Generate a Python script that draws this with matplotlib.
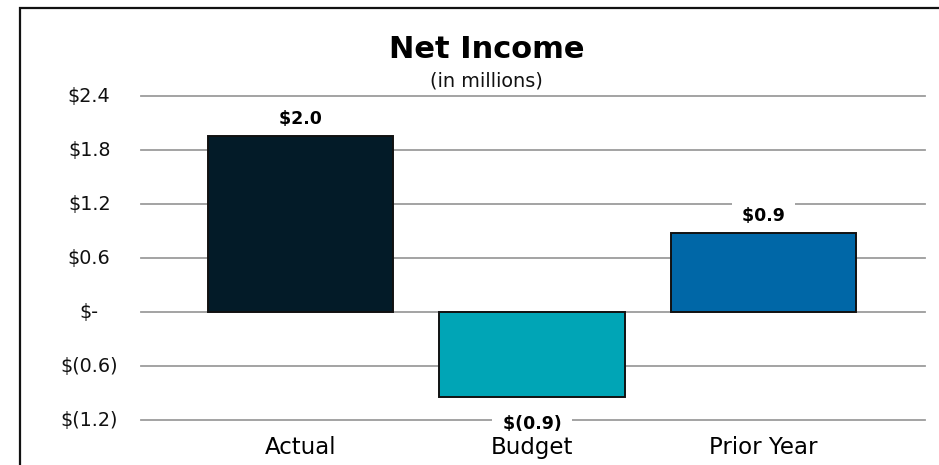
import matplotlib
matplotlib.use('Agg')
import matplotlib.pyplot as plt
import matplotlib.patches as mpatches
import matplotlib.transforms as mtransforms
import numpy as np

plt.rcParams.update({
    'font.family': 'DejaVu Sans',
    'figure.facecolor': '#ffffff',
    'axes.facecolor': '#ffffff',
})

# --- Data (in millions) ---
categories = ['Actual', 'Budget', 'Prior Year']
net_income = [1.96, -0.94, 0.88]
bar_colors = ['#031b28', '#00a5b6', '#0067a7']
y_ticks = [-1.2, -0.6, 0.0, 0.6, 1.2, 1.8, 2.4]


def acct(v):
    """Accounting-style dollar label."""
    if abs(v) < 1e-9:
        return '$-'
    if v < 0:
        return f'$({abs(v):.1f})'
    return f'${v:.1f}'


W, H = 939, 465
fig = plt.figure(figsize=(W / 100, H / 100), dpi=100)
ax = fig.add_axes([141 / W, 1 - 420.3 / H, 784 / W, 324.3 / H])

x = np.arange(len(categories))
ax.bar(x, net_income, width=0.8, color=bar_colors, edgecolor='#111111',
       linewidth=1.4, zorder=2)

ax.set_xlim(-0.689, 2.698)
ax.set_ylim(y_ticks[0], y_ticks[-1])
ax.set_yticks(y_ticks)
# keep the outer gridlines at full width instead of half-clipped at the edges
ax.yaxis.grid(True, color='#9c9c9c', linewidth=1.3, clip_on=False)
ax.set_axisbelow(True)
ax.tick_params(axis='y', length=0, labelleft=False)
for s in ax.spines.values():
    s.set_visible(False)

# category labels under the plot
ax.set_xticks(x)
ax.set_xticklabels(categories, fontsize=16.5)
ax.tick_params(axis='x', length=0, pad=11.5)

# y labels in accounting layout: numbers leave room for a closing paren,
# the dash leaves room for a digit plus the paren
base = mtransforms.blended_transform_factory(ax.transAxes, ax.transData)
for v in y_ticks:
    if v < 0:
        dx = -23
    elif v > 0:
        dx = -30.5
    else:
        dx = -42.7
    tr = mtransforms.offset_copy(base, fig=fig, x=dx, units='dots')
    ax.text(0, v, acct(v), transform=tr, ha='right', va='center',
            fontsize=13.8, color='#111111')

# value labels on a white box so they sit cleanly over gridlines
box = dict(boxstyle='square,pad=0.25', fc='white', ec='none')
for xi, v in zip(x, net_income):
    if v >= 0:
        ax.annotate(f' {acct(v)} ', xy=(xi, v), xytext=(0, 12), textcoords='offset pixels',
                    ha='center', va='baseline', fontsize=12.5, weight='bold',
                    bbox=box, zorder=3)
    else:
        ax.annotate(f' {acct(v)} ', xy=(xi, v), xytext=(0, -18), textcoords='offset pixels',
                    ha='center', va='top', fontsize=12.5, weight='bold',
                    bbox=box, zorder=3)

# titles
fig.text(487 / W, 1 - 58.3 / H, 'Net Income', ha='center', va='baseline',
         fontsize=22, weight='bold', color='#000000')
fig.text(486 / W, 1 - 86.7 / H, '(in millions)', ha='center', va='baseline',
         fontsize=13.9, color='#111111')

# chart-area border
frame = mpatches.Rectangle((19.5 / W, -0.1), 1.5, 0.1 + (1 - 8 / H),
                           transform=fig.transFigure, fill=False,
                           edgecolor='#111111', linewidth=1.6, clip_on=False)
fig.patches.append(frame)

fig.savefig('out.png', dpi=100)
